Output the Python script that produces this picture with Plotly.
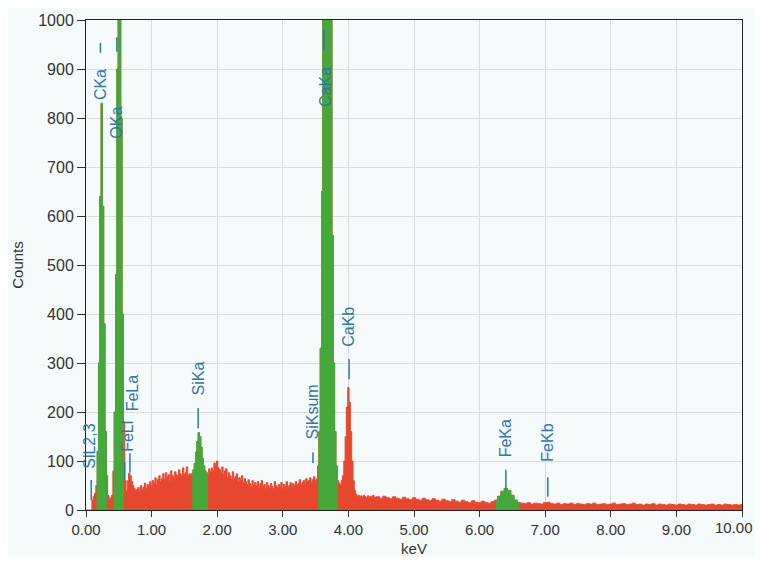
import numpy as np
import plotly.graph_objects as go

# ---- data: EDS spectrum counts ----
# low-energy part, 0.00 .. 4.40 keV, step 0.02 keV
counts_low = [
    0, 0, 0, 0, 0, 20, 28, 34, 50, 120,
    300, 640, 830, 620, 380, 160, 70, 30, 22, 25,
    30, 80, 200, 480, 900, 1400, 1300, 800, 400, 180,
    60, 40, 60, 75, 70, 58, 50, 44, 40, 42,
    46, 38, 50, 42, 47, 55, 44, 52, 48, 58,
    50, 60, 54, 66, 52, 62, 70, 58, 64, 74,
    62, 76, 68, 72, 60, 80, 70, 66, 78, 72,
    68, 82, 74, 70, 86, 72, 76, 88, 70, 74,
    72, 75, 82, 95, 118, 140, 158, 150, 128, 105,
    90, 80, 76, 72, 84, 78, 86, 80, 96, 90,
    100, 86, 82, 74, 88, 72, 80, 84, 66, 76,
    70, 62, 78, 64, 68, 74, 58, 66, 62, 70,
    56, 64, 58, 52, 62, 54, 48, 60, 52, 56,
    50, 58, 46, 54, 60, 48, 52, 44, 56, 50,
    46, 54, 48, 44, 58, 50, 46, 52, 48, 56,
    44, 52, 48, 58, 46, 50, 56, 48, 54, 50,
    58, 50, 54, 62, 52, 56, 60, 54, 64, 58,
    60, 66, 56, 62, 68, 60, 64, 90, 160, 330,
    650, 1200, 1800, 2200, 2300, 2100, 1600, 1000, 560, 300,
    160, 90, 60, 55, 52, 60, 70, 100, 150, 210,
    250, 220, 160, 100, 60, 40, 32, 28, 30, 27,
    29, 26, 30, 27, 25, 29, 26, 28, 25, 30,
    26,
]
# high-energy part, 4.45 .. 10.00 keV, step 0.05 keV
counts_high = [
    27, 24, 28, 25, 23, 27, 24, 22, 26, 23,
    21, 25, 22, 20, 24, 21, 19, 23, 20, 18,
    22, 19, 17, 21, 18, 16, 20, 17, 15, 19,
    16, 15, 18, 15, 14, 17, 20, 28, 38, 44,
    40, 30, 20, 15, 14, 13, 15, 12, 14, 13,
    12, 15, 16, 13, 12, 14, 11, 13, 12, 14,
    11, 13, 12, 11, 13, 12, 14, 11, 12, 13,
    11, 12, 14, 11, 12, 13, 11, 12, 14, 11,
    12, 10, 12, 11, 13, 10, 12, 11, 10, 12,
    11, 10, 12, 11, 10, 12, 11, 10, 12, 11,
    10, 11, 12, 10, 11, 10, 12, 11, 10, 11,
    10, 11,
]

# identified peak windows (keV) shown in green
peak_windows = [(0.15, 0.33), (0.41, 0.59), (1.61, 1.87), (3.53, 3.85), (6.23, 6.62)]

# line labels: name, energy of label, label centre (counts), marker energy, marker from/to (counts)
label_names = ["SiL2,3", "CKa", "OKa", "FeLl", "FeLa", "SiKa", "SiKsum", "CaKa", "CaKb", "FeKa", "FeKb"]
label_x = [0.06, 0.22, 0.47, 0.63, 0.70, 1.72, 3.46, 3.64, 4.01, 6.40, 7.04]
label_y = [131, 868, 790, 150, 240, 268, 201, 863, 374, 146, 137]
marker_x = [0.08, 0.22, 0.47, 0.59, 0.67, 1.71, 3.46, 3.63, 4.01, 6.40, 7.04]
marker_y0 = [20, 933, 935, 61, 76, 167, 96, 939, 267, 41, 27]
marker_y1 = [61, 953, 965, 98, 116, 208, 118, 980, 308, 82, 67]

x_ticks = [0, 1, 2, 3, 4, 5, 6, 7, 8, 9, 10]
y_ticks = [0, 100, 200, 300, 400, 500, 600, 700, 800, 900, 1000]

# ---- build ----
e_low = np.round(0.02 * np.arange(len(counts_low)), 3)
e_high = np.round(4.45 + 0.05 * np.arange(len(counts_high)), 3)
energy = np.concatenate([e_low, e_high])
counts = np.array(counts_low + counts_high, dtype=float)

RED = "#e8472f"
GREEN = "#45a83a"
BLUE = "#2f76ad"
FONT = "Arial, Liberation Sans, sans-serif"

fig = go.Figure()
fig.add_trace(go.Scatter(
    x=energy, y=counts, mode="lines", line=dict(color=RED, width=1, shape="hvh"),
    fill="tozeroy", fillcolor=RED, hoverinfo="skip", showlegend=False))

for lo, hi in peak_windows:
    m = (energy >= lo) & (energy <= hi)
    fig.add_trace(go.Scatter(
        x=energy[m], y=counts[m], mode="lines", line=dict(color=GREEN, width=1, shape="hvh"),
        fill="tozeroy", fillcolor=GREEN, hoverinfo="skip", showlegend=False))

for name, lx, ly, mx, my0, my1 in zip(label_names, label_x, label_y, marker_x, marker_y0, marker_y1):
    fig.add_annotation(x=lx, y=ly, text=name, textangle=-90, showarrow=False,
                       font=dict(family=FONT, size=16, color=BLUE))
    fig.add_shape(type="line", x0=mx, x1=mx, y0=my0, y1=my1, xref="x", yref="y",
                  line=dict(color=BLUE, width=1.5))

# last x tick label drawn right-aligned so it stays inside the window
x_ticktext = [f"{v:.2f}" for v in x_ticks[:-1]] + [""]
fig.add_annotation(x=x_ticks[-1], xref="x", y=0, yref="paper", text=f"{x_ticks[-1]:.2f}",
                   showarrow=False, xanchor="right", yanchor="top", xshift=13, yshift=-7,
                   font=dict(family=FONT, size=15, color="#333333"))

fig.update_layout(
    width=755, height=549,
    margin=dict(l=78, r=21, t=12, b=47),
    paper_bgcolor="#f5fafa", plot_bgcolor="#f5fafa",
    font=dict(family=FONT, size=15, color="#333333"),
)
fig.update_xaxes(
    range=[0, 10], tickvals=x_ticks, ticktext=x_ticktext, automargin=False,
    ticklabeloverflow="allow", tickfont=dict(size=15),
    showgrid=True, gridcolor="#d9dddd", gridwidth=1, zeroline=False,
    showline=True, linecolor="#222222", linewidth=1, mirror=True,
    ticks="outside", ticklen=6, tickcolor="#333333",
    title=dict(text="keV", standoff=6, font=dict(size=15)),
)
fig.update_yaxes(
    range=[0, 1000], tickvals=y_ticks, automargin=False,
    ticklabeloverflow="allow", tickfont=dict(size=16),
    showgrid=True, gridcolor="#d9dddd", gridwidth=1, zeroline=False,
    showline=True, linecolor="#222222", linewidth=1, mirror=True,
    ticks="outside", ticklen=8, tickcolor="#333333",
    title=dict(text="Counts", standoff=10, font=dict(size=15)),
)

fig.write_html("out.html")
